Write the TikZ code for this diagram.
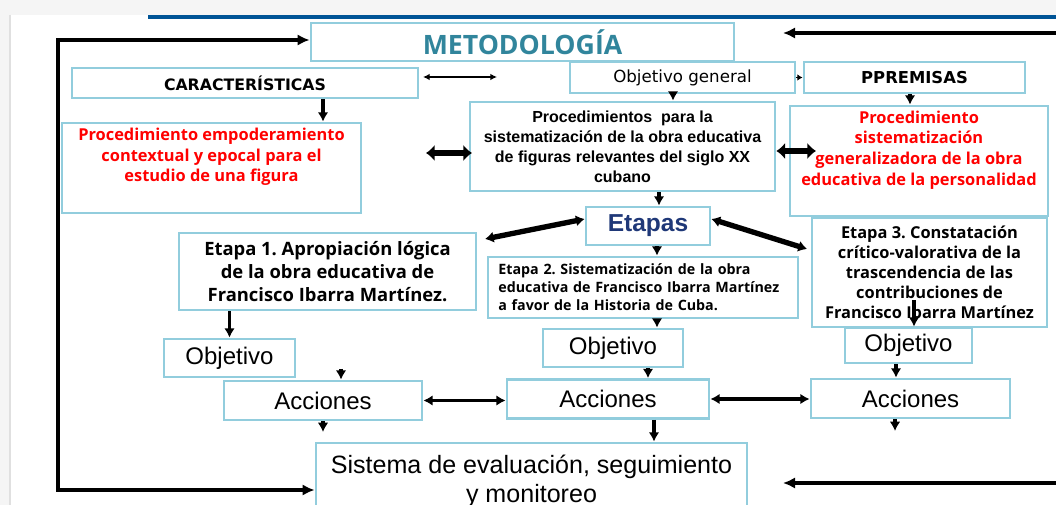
\documentclass[tikz,border=0pt]{standalone}
\usepackage{fontspec}
\setmainfont{Open Sans}
\newfontfamily\arialf{Liberation Sans}
\newfontfamily\verdf{DejaVu Sans}
\usetikzlibrary{arrows.meta,positioning,calc}
\definecolor{boxblue}{RGB}{146,205,221}
\definecolor{metoteal}{RGB}{49,133,156}
\definecolor{etanavy}{RGB}{31,56,120}
\definecolor{barblue}{RGB}{0,84,150}
\frenchspacing

\begin{document}
\begin{tikzpicture}[x=0.75pt,y=-0.75pt,
    box/.style={draw=boxblue, line width=2.1pt, inner sep=0pt, align=center},
    bx/.style 2 args={minimum width=#1*0.75pt, minimum height=#2*0.75pt},
    redt/.style={text=red, align=center, font=\bfseries\fontsize{12.3}{15.4}\selectfont},
    big/.style={font=\arialf\fontsize{18}{21.75}\selectfont},
    down/.style={line width=2.5pt, -{Latex[length=7pt,width=8pt]}},
    both/.style={line width=2.4pt, {Latex[length=7pt,width=8pt]}-{Latex[length=7pt,width=8pt]}},
    thinboth/.style={line width=1.3pt, {Latex[length=5pt,width=5pt]}-{Latex[length=5pt,width=5pt]}},
    fat/.style={line width=5pt, {Latex[length=6.5pt,width=12.5pt]}-{Latex[length=6.5pt,width=12.5pt]}},
    diag/.style={line width=4pt, {Latex[length=6.5pt,width=8.5pt]}-{Latex[length=6.5pt,width=8.5pt]}},
    frame/.style={line width=3pt, {Latex[length=9pt,width=8.5pt]}-{Latex[length=9pt,width=8.5pt]}},
    lone/.style={line width=3pt, -{Latex[length=9pt,width=8.5pt]}}]
  \useasboundingbox (0,0) rectangle (1056,505);
  \fill[black!4] (0,0) rectangle (1056,505);
  \fill[white] (10,15) rectangle (1056,505);
  \draw[black!12, line width=0.8pt] (10,15) -- (10,505);
  \draw[barblue, line width=3pt] (148,17) -- (1056,17);

  % top row
  \node[box, bx={423}{38}, text=metoteal, font=\bfseries\fontsize{20}{22}\selectfont] (meto) at (522.5,42) {METODOLOGÍA};
  \node[box, bx={346}{30}, font=\verdf\bfseries\fontsize{11.8}{14}\selectfont] (carac) at (245,83) {CARACTERÍSTICAS};
  \node[box, bx={225}{31}, font=\verdf\fontsize{12.5}{14}\selectfont] (objg) at (682.5,77.5) {Objetivo general};
  \node[box, bx={221}{31}, font=\verdf\bfseries\fontsize{12.3}{14}\selectfont] (prem) at (914.5,77.5) {PPREMISAS};

  % procedimientos
  \node[box, bx={299}{90}] (empo) at (211.5,168) {};
  \node[redt] (empotxt) at (211.5,157) {Procedimiento empoderamiento\\contextual y epocal para el\\estudio de una figura};
  \node[box, bx={305}{89}, font=\arialf\bfseries\fontsize{12}{15}\selectfont] (proc) at (622.5,146.5) {Procedimientos\ \ para la\\sistematización de la obra educativa\\de figuras relevantes del siglo XX\\cubano};
  \node[box, bx={258}{110}] (sisg) at (919,161) {};
  \node[redt] (sisgtxt) at (919,150) {Procedimiento\\sistematización\\generalizadora de la obra\\educativa de la personalidad};

  % etapas
  \node[box, bx={124}{38}, text=etanavy, font=\arialf\bfseries\fontsize{18.4}{20}\selectfont] (etapas) at (648,226) {Etapas};
  \node[box, bx={297}{77}, font=\bfseries\fontsize{13.8}{17.25}\selectfont] (eta1) at (327.5,271.5) {Etapa 1. Apropiación lógica\\de la obra educativa de\\Francisco Ibarra Martínez.};
  \node[box, bx={310}{61}, text width=217pt, inner xsep=7.5pt, align=left, font=\bfseries\fontsize{10.7}{13.5}\selectfont] (eta2) at (643,287.5) {Etapa 2. Sistematización de la obra\\educativa de Francisco Ibarra Martínez\\a favor de la Historia de Cuba.};
  \node[box, bx={235}{109}, font=\bfseries\fontsize{12.3}{15}\selectfont] (eta3) at (929.5,272.5) {Etapa 3. Constatación\\crítico-valorativa de la\\trascendencia de las\\contribuciones de\\Francisco Ibarra Martínez};

  % objetivo, acciones
  \foreach \n/\x/\y/\w/\h in {1/229.5/358/131/38, 2/613/348/140/38, 3/908.5/345.5/127/35}
    \node[box, big, bx={\w}{\h}] (obj\n) at (\x,\y) {Objetivo};
  \foreach \n/\x/\y/\w in {1/323/400.5/198, 2/608/399/202, 3/910.5/398.5/199}
    \node[box, big, bx={\w}{39}] (acc\n) at (\x,\y) {Acciones};
  \node[box, big, font=\arialf\fontsize{18.8}{21.75}\selectfont, bx={431}{77}] (sist) at (531.5,481.5) {Sistema de evaluación, seguimiento\\y monitoreo};

  % frame arrows
  \coordinate (loopL) at (58,40);
  \draw[frame] (meto.west |- loopL) -- (loopL) |- (sist.west |- 0,490);
  \coordinate (rtop) at (1060,33);
  \coordinate (rtopend) at (783,33);
  \draw[lone] (rtop) -- (rtopend);
  \coordinate (rbot) at (1060,483);
  \coordinate (rbotend) at (783,483);
  \draw[lone] (rbot) -- (rbotend);

  % connectors
  \coordinate (ca) at (423,77);
  \coordinate (cb) at (497,77);
  \draw[thinboth] (ca) -- (cb);
  \draw[line width=1pt, -{Latex[length=4pt,width=5pt]}] (objg.east) -- (prem.west);
  \foreach \a/\b/\x in {carac/empo/323, objg/proc/673, prem/sisg/910, proc/etapas/659, etapas/eta2/657,
      eta1/obj1/229.5, eta2/obj2/657, obj2/acc2/648, obj3/acc3/896, acc2/sist/654}
    \draw[down] (\a.south -| \x,0) -- (\b.north -| \x,0);
  \coordinate (e3stub) at (914,300);
  \draw[down] (e3stub) -- (obj3.north -| e3stub);
  \coordinate (o1stub) at (341,369);
  \draw[down] (o1stub) -- (acc1.north -| o1stub);
  \coordinate (a1stub) at (323,432);
  \draw[down] (acc1.south -| a1stub) -- (a1stub);
  \coordinate (a3stub) at (895,431);
  \draw[down] (acc3.south -| a3stub) -- (a3stub);
  \draw[both] (acc1.east) -- (acc2.west |- acc1.east);
  \draw[both] (acc2.east) -- (acc3.west |- acc2.east);

  \coordinate (fa) at (426,153);
  \coordinate (fb) at (472,153);
  \draw[fat] (fa) -- (fb);
  \coordinate (fc) at (816,151);
  \draw[fat] (proc.east |- fc) -- (fc);
  \coordinate (d1) at (485,239);
  \draw[diag] (etapas.west |- 0,219) -- (d1);
  \coordinate (d3) at (807,249);
  \draw[diag] (etapas.east |- 0,219) -- (d3);
\end{tikzpicture}
\end{document}
